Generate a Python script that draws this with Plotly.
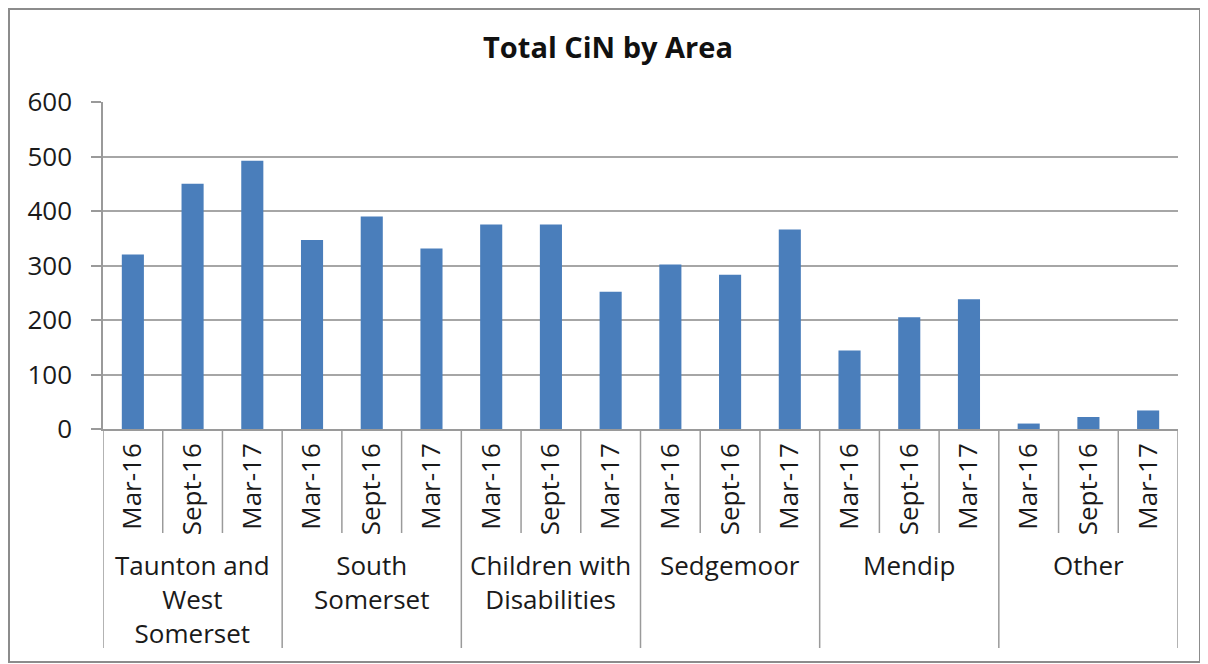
import plotly.graph_objects as go

# ---- data ----
areas = ["Taunton and<br>West<br>Somerset", "South<br>Somerset",
         "Children with<br>Disabilities", "Sedgemoor", "Mendip", "Other"]
periods = ["Mar-16", "Sept-16", "Mar-17"]
taunton = [320, 450, 492]
south_somerset = [347, 390, 331]
cwd = [375, 375, 252]
sedgemoor = [302, 283, 366]
mendip = [144, 205, 238]
other = [10, 22, 34]
y_ticks = [0, 100, 200, 300, 400, 500, 600]

series = [taunton, south_somerset, cwd, sedgemoor, mendip, other]
values = [v for s in series for v in s]
labels = [p for _ in areas for p in periods]
xpos = list(range(len(values)))

# page body has an 8px margin, so the figure is laid out 8px up/left
W, H = 1200, 656
ML, MR, MT, MB = 95, 30, 94, 235
plot_w = W - ML - MR
plot_h = H - MT - MB
FONT = "Open Sans"
FS = 26
TXT = "#1a1a1a"
GRID = "#a6a6a6"
AX = "#9a9a9a"

fig = go.Figure(go.Bar(
    x=xpos, y=values, marker=dict(color="#4a7ebb", line=dict(width=0)),
    width=0.37, showlegend=False))

def py(px_below):
    # pixel distance below the x axis -> paper coordinate
    return -px_below / plot_h

shapes = []
n = len(values)
for i in range(n + 1):
    xb = i - 0.5
    group_edge = (i % len(periods) == 0)
    shapes.append(dict(type="line", xref="x", yref="paper", x0=xb, x1=xb,
                       y0=0, y1=py(219 if group_edge else 104),
                       line=dict(color=AX, width=1.5)))
# outer frame
shapes.append(dict(type="rect", xref="paper", yref="paper",
                   x0=(1 - ML) / plot_w, x1=(1192 - ML) / plot_w,
                   y0=-(654 - MT - plot_h) / plot_h, y1=1 + (MT - 1) / plot_h,
                   line=dict(color="#8c8c8c", width=2)))

annotations = []
for g, name in enumerate(areas):
    cx = g * len(periods) + (len(periods) - 1) / 2
    annotations.append(dict(x=cx, y=py(116), xref="x", yref="paper",
                            text=name, showarrow=False, yanchor="top",
                            font=dict(family=FONT, size=FS, color=TXT),
                            align="center"))

fig.update_layout(
    width=W, height=H,
    margin=dict(l=ML, r=MR, t=MT, b=MB),
    paper_bgcolor="white", plot_bgcolor="white",
    title=dict(text="<b>Total CiN by Area</b>", x=0.5, xanchor="center",
               y=1 - 40 / H, yanchor="middle",
               font=dict(family=FONT, size=29, color="#111111")),
    font=dict(family=FONT, size=FS, color=TXT),
    bargap=0.63,
    shapes=shapes,
    annotations=annotations,
)
fig.update_xaxes(range=[-0.5, n - 0.5], tickmode="array", tickvals=xpos,
                 ticktext=labels, tickangle=-90, ticks="",
                 ticklabelstandoff=2,
                 tickfont=dict(family=FONT, size=FS, color=TXT),
                 showgrid=False, showline=True, linecolor=AX, linewidth=1.5,
                 zeroline=False, fixedrange=True)
fig.update_yaxes(range=[0, 600], tickmode="array", tickvals=y_ticks,
                 ticks="outside", ticklen=10, tickcolor=AX, tickwidth=1.5,
                 ticklabelstandoff=14,
                 tickfont=dict(family=FONT, size=FS, color=TXT),
                 showgrid=True, gridcolor=GRID, gridwidth=1.5,
                 showline=True, linecolor=AX, linewidth=1.5,
                 zeroline=False, fixedrange=True)

fig.write_html("out.html")
